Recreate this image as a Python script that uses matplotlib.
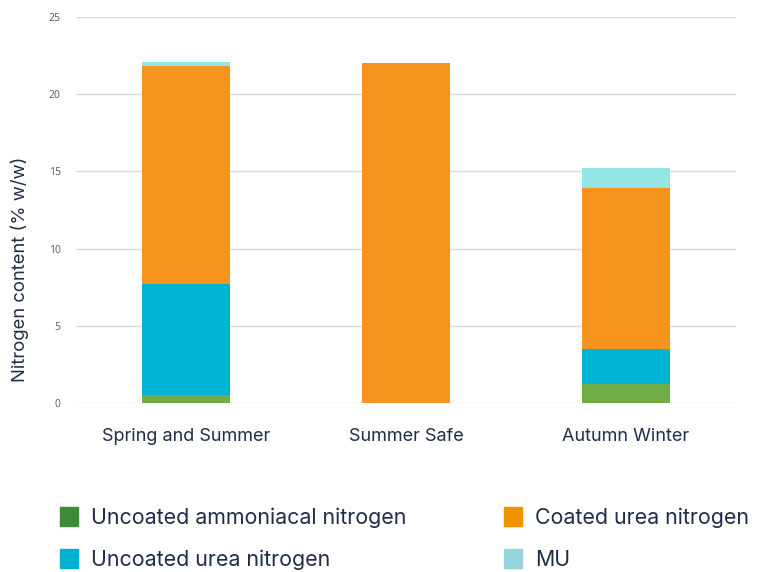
import matplotlib.pyplot as plt
import matplotlib.patches as patches
import numpy as np

# categories and stacked values (% w/w)
products = ["Spring and Summer", "Summer Safe", "Autumn Winter"]
ammoniacal = [0.5, 0.0, 1.2]
uncoated_urea = [7.2, 0.0, 2.3]
coated_urea = [14.1, 22.0, 10.4]
mu = [0.3, 0.0, 1.3]

series_names = ["Uncoated ammoniacal nitrogen", "Uncoated urea nitrogen",
                "Coated urea nitrogen", "MU"]
bar_colors = ["#70ad47", "#00b4d5", "#f7941d", "#92e6e6"]
legend_colors = ["#3d8b37", "#00b0d3", "#f39200", "#96d3dc"]
yticks = [0, 5, 10, 15, 20, 25]

fig = plt.figure(figsize=(7.68, 5.72), dpi=100)
ax = fig.add_axes([76/768, 1 - 403/572, 660/768, 386/572])

x = np.arange(len(products))
bottom = np.zeros(len(products))
for vals, col in zip([ammoniacal, uncoated_urea, coated_urea, mu], bar_colors):
    ax.bar(x, vals, width=0.4, bottom=bottom, color=col, zorder=3)
    bottom += np.array(vals)

ax.set_xlim(-0.5, 2.5)
ax.set_ylim(0, 25)
ax.set_yticks(yticks)
ax.set_xticks(x)
ax.set_xticklabels(products, fontsize=13, color="#1f2d46", family="Inter")
ax.tick_params(axis="y", labelsize=7.5, colors="#595959", length=0, pad=11)
ax.tick_params(axis="x", length=0, pad=18)
for lab in ax.get_yticklabels():
    lab.set_family("Open Sans")
ax.grid(axis="y", color="#d9d9d9", linewidth=1, zorder=0)
for s in ax.spines.values():
    s.set_visible(False)
ax.set_ylabel("Nitrogen content (% w/w)", fontsize=13.3, color="#1f2d46",
              family="Inter")
ax.yaxis.set_label_coords(-0.071, 0.347)

handles = [patches.Patch(color=c, label=n) for c, n in zip(legend_colors, series_names)]
fig.legend(handles=handles, ncol=2, loc="upper left", bbox_to_anchor=(0.053, 0.147),
           frameon=False, prop={"family": "Inter", "size": 15.4},
           handlelength=0.85, handleheight=1.0, handletextpad=0.6,
           columnspacing=4.58, labelspacing=0.98, labelcolor="#1f2d46")

fig.savefig("out.png", dpi=100)
